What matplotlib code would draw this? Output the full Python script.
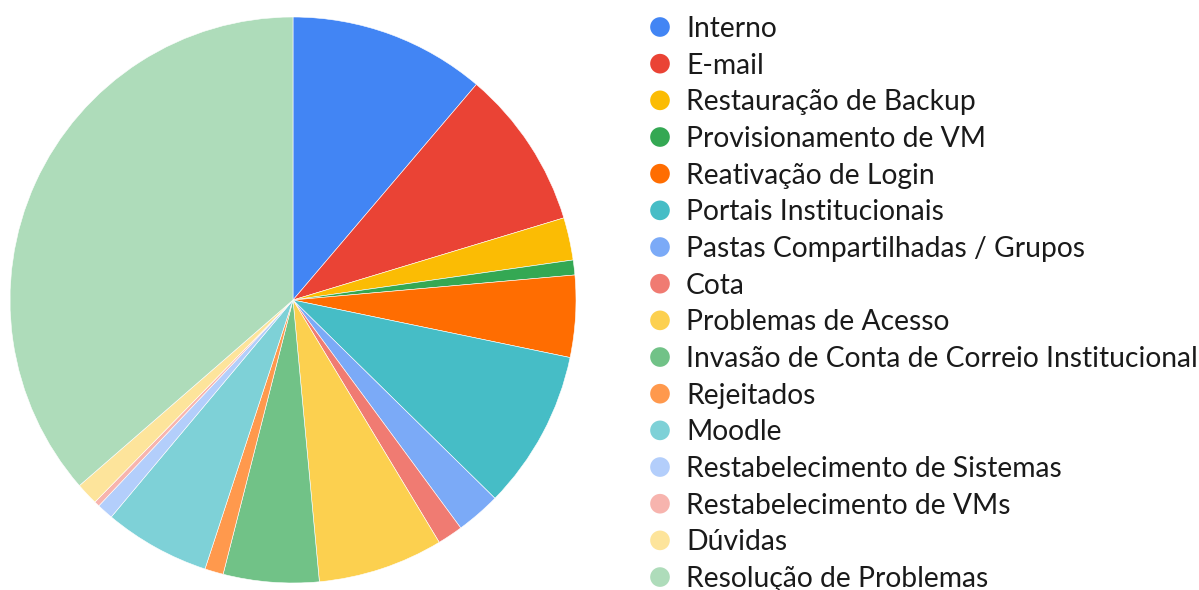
import matplotlib
matplotlib.use("Agg")
import matplotlib.pyplot as plt

labels = ["Interno", "E-mail", "Restauração de Backup", "Provisionamento de VM",
          "Reativação de Login", "Portais Institucionais", "Pastas Compartilhadas / Grupos",
          "Cota", "Problemas de Acesso", "Invasão de Conta de Correio Institucional",
          "Rejeitados", "Moodle", "Restabelecimento de Sistemas",
          "Restabelecimento de VMs", "Dúvidas", "Resolução de Problemas"]
values = [37, 30, 8, 2.8, 15.4, 30, 8.4, 4.8, 23.6, 18, 3.5, 20, 3.1, 1, 4.2, 120]
colors = ["#4285F4", "#EA4335", "#FBBC04", "#34A853", "#FF6D01", "#46BDC6", "#7BAAF7",
          "#F07B72", "#FCD04F", "#71C287", "#FF994D", "#7ED1D7", "#B3CEFB", "#F7B4AE",
          "#FDE49B", "#AEDCBA"]

W, H = 1199, 590
fig = plt.figure(figsize=(W / 100, H / 100), dpi=100)

# pie: center (293, 300), radius ~283 px
cx, cy, r = 293, 300, 283
ax = fig.add_axes([(cx - r) / W, (H - cy - r) / H, 2 * r / W, 2 * r / H])
ax.pie(values, colors=colors, startangle=90, counterclock=False,
       wedgeprops=dict(linewidth=0.4, edgecolor="white"))
ax.set_xlim(-1, 1)
ax.set_ylim(-1, 1)
ax.set_aspect("equal")

# legend drawn in pixel coordinates
lax = fig.add_axes([0, 0, 1, 1], facecolor="none")
lax.set_xlim(0, W)
lax.set_ylim(H, 0)
lax.axis("off")
top, step = 27, 36.67
for i, (lab, col) in enumerate(zip(labels, colors)):
    y = top + i * step
    lax.scatter([660], [y], s=200, color=col, edgecolors="none")
    lax.text(686, y + 2, lab, fontsize=20.3, family="Lato", color="#1a1a1a", va="center", ha="left")

fig.savefig("out.png", dpi=100)
